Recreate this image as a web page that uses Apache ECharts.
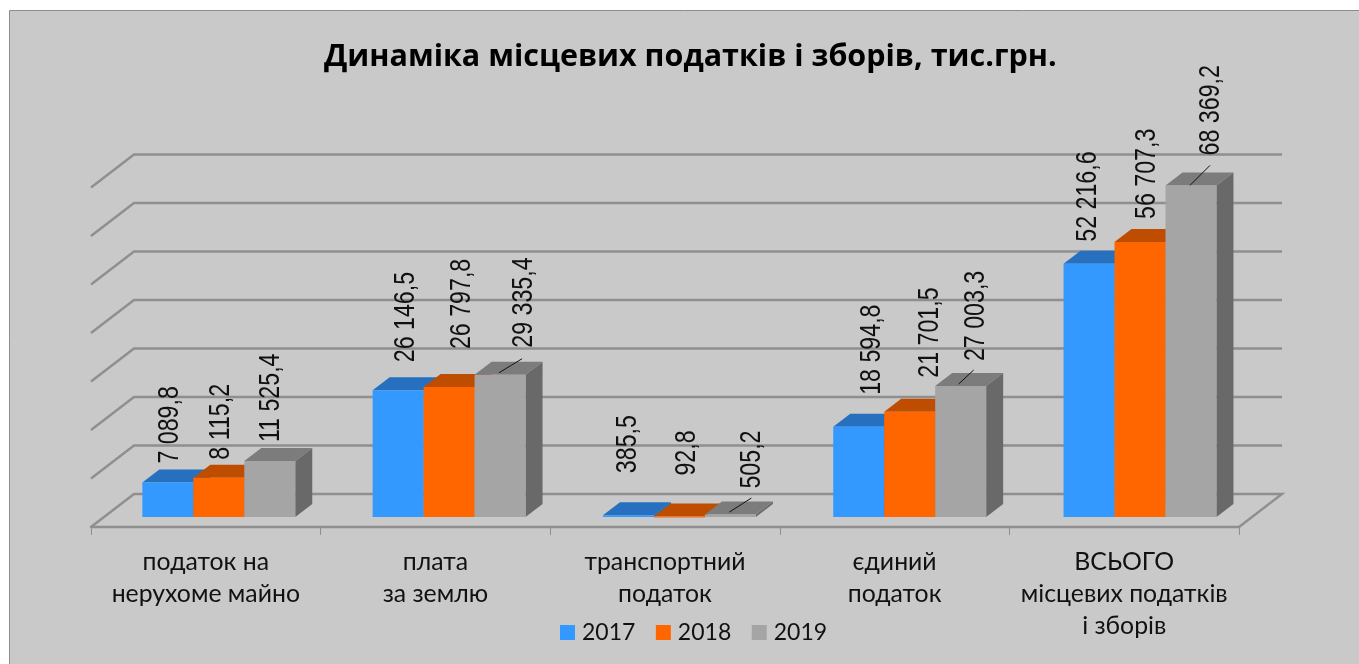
<!DOCTYPE html>
<html>
<head>
<meta charset="utf-8">
<style>html,body{margin:0;padding:0;background:#fff}#c{width:1359px;height:664px}</style>
<script src="https://cdn.jsdelivr.net/npm/echarts@6/dist/echarts.min.js"></script>
</head>
<body>
<div id="c"></div>
<script>
const categories = ['податок на\nнерухоме майно', 'плата\nза землю', 'транспортний\nподаток', 'єдиний\nподаток', 'ВСЬОГО\nмісцевих податків\nі зборів'];
const years = ['2017', '2018', '2019'];
const values2017 = [7089.8, 26146.5, 385.5, 18594.8, 52216.6];
const values2018 = [8115.2, 26797.8, 92.8, 21701.5, 56707.3];
const values2019 = [11525.4, 29335.4, 505.2, 27003.3, 68369.2];
const gridTicks = [0, 10000, 20000, 30000, 40000, 50000, 60000, 70000];

// layout only
const labelShift = [
  [[2,-19],[8,-28],[0,-42],[13,-32],[-1,-22]],
  [[2,-18],[13,-38],[8,-41],[20,-34],[7,-23]],
  [[1,-19],[24,-27],[22,-26],[15,-25],[20,-30]]
];
const leaders = [null, [-1,-2,22,-16], [-1,-2.5,21,-16.5], [-2,-2,13,-16], [-1,0,19,-20]];
const palette = [
  {front:'#3399ff', top:'#2670bf', side:'#1f5f9f'},
  {front:'#ff6600', top:'#bf4d00', side:'#9f4000'},
  {front:'#a5a5a5', top:'#7c7c7c', side:'#696969'}
];
const FONT = 'Lato, Roboto, sans-serif';
const LINE = '#8f8f8f';
const WALL_DX = 43, WALL_DY = -33;
const OFF_X = 13, OFF_Y = -10, CAT_DRIFT = 0.7;
const DEPTH_X = 17, DEPTH_Y = -13;
const BAR_FRAC = 0.222;

function fmt(v) {
  const parts = v.toFixed(1).split('.');
  return parts[0].replace(/\B(?=(\d{3})+$)/g, ' ') + ',' + parts[1];
}

function renderWall(params, api) {
  const cs = params.coordSys;
  const y = api.coord([0, api.value(0)])[1];
  const x0 = cs.x, x1 = cs.x + WALL_DX, x2 = cs.x + cs.width + WALL_DX;
  const points = [[x0, y], [x1, y + WALL_DY], [x2, y + WALL_DY]];
  if (api.value(0) === 0) points.push([cs.x + cs.width, y]);
  return {type: 'polyline', shape: {points}, style: {stroke: LINE, lineWidth: 2.4, fill: null}};
}

function renderBar(si) {
  return function (params, api) {
    const cat = api.value(0), val = api.value(1);
    const p = api.coord([cat, val]);
    const b = api.coord([cat, 0]);
    const w = api.size([1, 0])[0] * BAR_FRAC;
    const x0 = p[0] - 1.5 * w + si * w + OFF_X + cat * CAT_DRIFT, x1 = x0 + w;
    const yt = p[1] + OFF_Y, yb = b[1] + OFF_Y;
    const c = palette[si];
    const cx = x0 + w / 2;
    const shift = labelShift[si][cat];
    const children = [
      {type: 'polygon', shape: {points: [[x1, yt], [x1 + DEPTH_X, yt + DEPTH_Y], [x1 + DEPTH_X, yb + DEPTH_Y], [x1, yb]]}, style: {fill: c.side}},
      {type: 'polygon', shape: {points: [[x0, yt], [x0 + DEPTH_X, yt + DEPTH_Y], [x1 + DEPTH_X, yt + DEPTH_Y], [x1, yt]]}, style: {fill: c.top}},
      {type: 'rect', shape: {x: x0, y: yt, width: w, height: Math.max(yb - yt, 1)}, style: {fill: c.front}},
      {type: 'text', x: cx + shift[0], y: yt + shift[1], rotation: Math.PI / 2, scaleX: 0.8, z2: 10,
       style: {text: fmt(val), font: '29px "Liberation Sans", sans-serif', fill: '#111', align: 'left', verticalAlign: 'middle'}}
    ];
    if (si === 2 && leaders[cat]) {
      const l = leaders[cat];
      children.push({type: 'line', z2: 10, shape: {x1: cx + l[0], y1: yt + l[1], x2: cx + l[2], y2: yt + l[3]}, style: {stroke: '#111', lineWidth: 1}});
    }
    return {type: 'group', children};
  };
}

const seriesValues = [values2017, values2018, values2019];
const chart = echarts.init(document.getElementById('c'), null, {renderer: 'canvas'});
chart.setOption({
  animation: false,
  backgroundColor: '#ffffff',
  graphic: [{type: 'rect', z: -10, shape: {x: 9.5, y: 10.5, width: 1400, height: 700},
    style: {fill: '#c9c9c9', stroke: '#8c8c8c', lineWidth: 1}}],
  title: {
    left: 319, top: 37,
    text: '{b|Динаміка місцевих податків і зборів}{n|, }{b|тис}{n|.}{b|грн}{n|.}',
    textStyle: {rich: {
      b: {fontFamily: 'Open Sans', fontWeight: 'bold', fontSize: 30.5, color: '#000'},
      n: {fontFamily: 'Open Sans', fontSize: 30.5, color: '#000'}
    }}
  },
  legend: {
    left: 560, top: 621, padding: 0, icon: 'rect', itemWidth: 15, itemHeight: 15, itemGap: 20.5,
    data: years, selectedMode: false,
    textStyle: {fontFamily: FONT, fontSize: 23, color: '#111', padding: [0, 0, 0, 2]}
  },
  grid: {left: 91, width: 1148, top: 187.5, height: 339.5},
  xAxis: {
    type: 'category', data: categories, boundaryGap: true,
    axisLine: {lineStyle: {color: LINE, width: 2.4}},
    axisTick: {show: true, length: 8, lineStyle: {color: LINE, width: 1}},
    axisLabel: {interval: 0, margin: 19, fontFamily: FONT, fontSize: 24.8, lineHeight: 32, color: '#111'}
  },
  yAxis: {type: 'value', min: 0, max: 70000, interval: 10000, show: false, splitLine: {show: false}},
  series: [
    {type: 'custom', name: 'walls', data: gridTicks.map(v => [v]), renderItem: renderWall, encode: {y: 0}, silent: true, z: 1},
    ...years.map((y, si) => ({
      type: 'custom', name: y, itemStyle: {color: palette[si].front}, z: 2 + si,
      data: seriesValues[si].map((v, i) => [i, v]), encode: {x: 0, y: 1}, renderItem: renderBar(si), clip: false
    }))
  ]
});
</script>
</body>
</html>
